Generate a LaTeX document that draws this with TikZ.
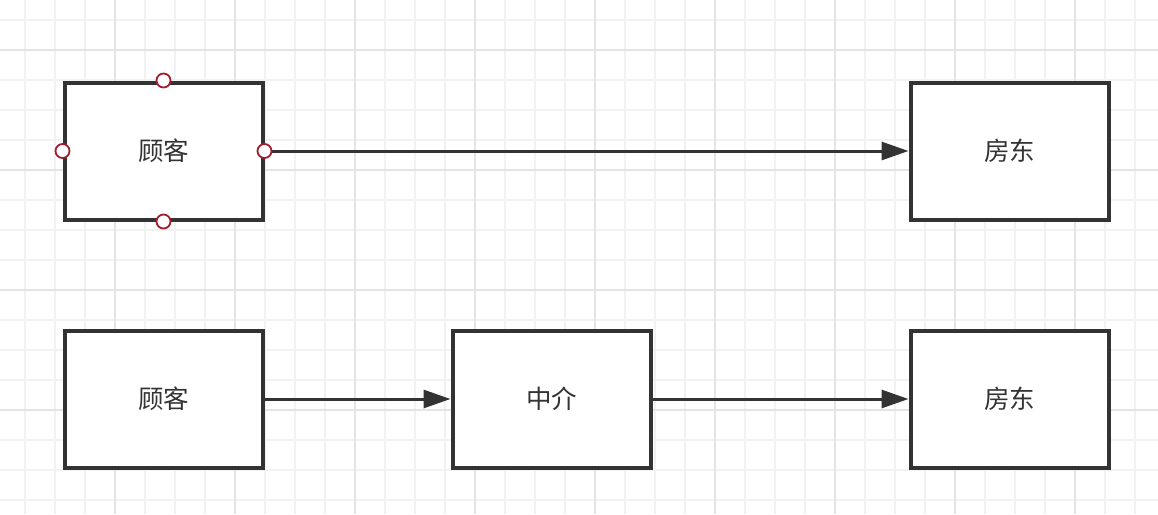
\documentclass[tikz,border=0pt]{standalone}
\usepackage{fontspec}
\setmainfont{Noto Sans CJK SC}
\usetikzlibrary{arrows.meta}
\definecolor{ink}{HTML}{333333}
\definecolor{gridminor}{HTML}{F2F2F2}
\definecolor{gridmajor}{HTML}{E4E4E4}
\definecolor{portred}{HTML}{A11F2F}
\tikzset{
  box/.style={draw=ink, line width=4pt, fill=white, minimum width=198pt, minimum height=137pt,
    inner sep=0pt, text=ink, font=\fontsize{25.5}{30}\selectfont},
  conn/.style={draw=ink, line width=3pt, -{Triangle[length=27pt,width=18pt]}},
  port/.style={circle, draw=portred, fill=white, line width=1.8pt, minimum size=14pt, inner sep=0pt},
}
\begin{document}
\begin{tikzpicture}[x=1pt,y=-1pt]
\useasboundingbox (0,0) rectangle (1158,514);
\fill[white] (0,0) rectangle (1158,514);
% grid
\foreach \x in {25,55,...,1158} \draw[gridminor, line width=1.5pt] (\x,0) -- (\x,514);
\foreach \y in {20,50,...,514} \draw[gridminor, line width=1.5pt] (0,\y) -- (1158,\y);
\foreach \x in {115,235,...,1158} \draw[gridmajor, line width=2pt] (\x,0) -- (\x,514);
\foreach \y in {50,170,...,514} \draw[gridmajor, line width=2pt] (0,\y) -- (1158,\y);
% nodes
\node[box] (c1) at (163.5,151) {顾客};
\node[box] (l1) at (1009.5,151) {房东};
\node[box] (c2) at (163.5,399) {顾客};
\node[box] (m)  at (551.5,399) {中介};
\node[box] (l2) at (1009.5,399) {房东};
% connectors
\draw[conn] (c1.east) -- (l1.west);
\draw[conn] (c2.east) -- (m.west);
\draw[conn] (m.east) -- (l2.west);
% ports
\node[port] (pn) at (c1.north) {};
\node[port] (ps) at (c1.south) {};
\node[port] (pw) at (c1.west) {};
\node[port] (pe) at (c1.east) {};
\end{tikzpicture}
\end{document}
